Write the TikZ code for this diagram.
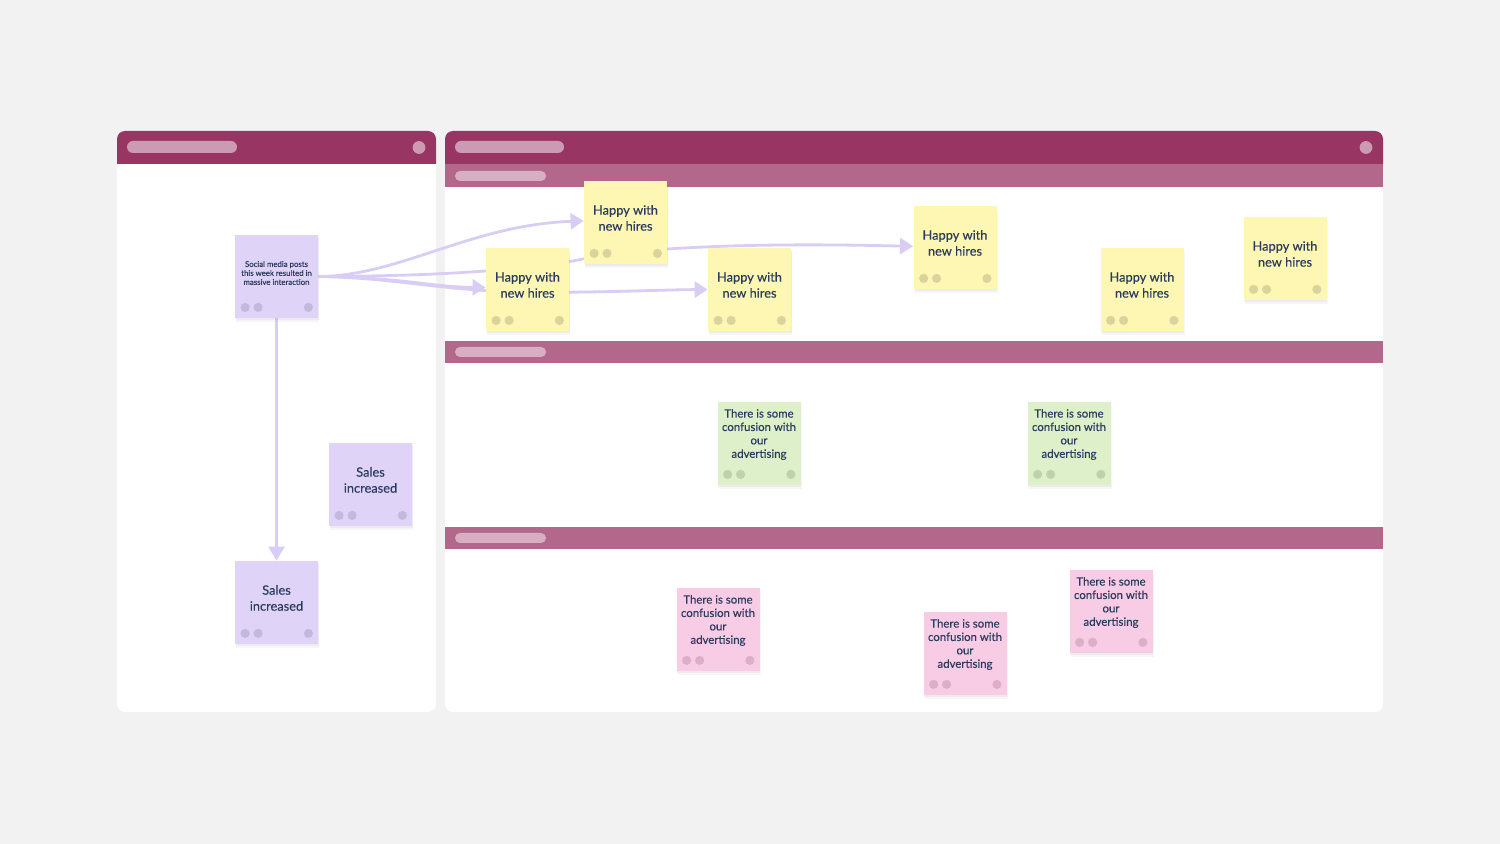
\documentclass[tikz,border=0pt]{standalone}
\usepackage{fontspec}
\setmainfont{Lato}
\newfontfamily\notefont[FakeBold=0.35]{Lato}
\usetikzlibrary{shadows,arrows.meta}
\definecolor{bgc}{HTML}{F2F2F2}
\definecolor{hdr}{HTML}{993562}
\definecolor{lane}{HTML}{B3688B}
\definecolor{hpill}{HTML}{CD9AB3}
\definecolor{lpill}{HTML}{D8AEC3}
\definecolor{txt}{HTML}{2A3B5E}
\definecolor{arr}{HTML}{D9CDF6}
\definecolor{yel}{HTML}{FEF7B4}
\definecolor{yeld}{HTML}{DAD39B}
\definecolor{pur}{HTML}{DFD4F7}
\definecolor{purd}{HTML}{C5B8DD}
\definecolor{grn}{HTML}{DDF0C9}
\definecolor{grnd}{HTML}{BFD0AD}
\definecolor{pnk}{HTML}{F9CCE6}
\definecolor{pnkd}{HTML}{DDAEC8}
\pgfdeclarelayer{bg}
\pgfdeclarelayer{arrows}
\pgfsetlayers{bg,arrows,main}
\newcommand\notedots[2]{\fill[#2] ([shift={(10.5,-11)}]#1.south west) circle[radius=2.3pt]
  ([shift={(23.5,-11)}]#1.south west) circle[radius=2.3pt]
  ([shift={(-10,-11)}]#1.south east) circle[radius=2.3pt];}
\begin{document}
\begin{tikzpicture}[x=0.5pt,y=-0.5pt,
  note/.style={minimum width=41.5pt, minimum height=41.5pt, inner sep=0pt,
    drop shadow={shadow xshift=0.5pt, shadow yshift=-1.8pt, opacity=0.07},
    drop shadow={shadow xshift=0.4pt, shadow yshift=-1.1pt, opacity=0.08}},
  ynote/.style={note, fill=yel},
  pnote/.style={note, fill=pur},
  gnote/.style={note, fill=grn},
  knote/.style={note, fill=pnk},
  bigtext/.style={text=txt, inner sep=0pt, align=center, font=\notefont\fontsize{6.4pt}{8pt}\selectfont},
  midtext/.style={text=txt, inner sep=0pt, align=center, font=\notefont\fontsize{5.7pt}{6.7pt}\selectfont},
  smalltext/.style={text=txt, inner sep=0pt, align=center, font=\notefont\fontsize{3.9pt}{4.5pt}\selectfont},
  conn/.style={draw=arr, line width=1.4pt, -{Triangle[length=6.5pt,width=8pt]}}
  ]
\useasboundingbox (0,0) rectangle (1500,844);
\begin{pgfonlayer}{bg}
\fill[bgc] (0,0) rectangle (1500,844);
% left panel
\fill[white, rounded corners=4pt] (117,131) rectangle (436,712);
\begin{scope}
\clip (117,131) rectangle (436,164);
\fill[hdr, rounded corners=4pt] (117,131) rectangle (436,712);
\end{scope}
\fill[hpill, rounded corners=3pt] (127,141) rectangle (237,153);
\fill[hpill] (419,147.5) circle[radius=3.2pt];
% right panel
\fill[white, rounded corners=4pt] (445,131) rectangle (1383,712);
\begin{scope}
\clip (445,131) rectangle (1383,164);
\fill[hdr, rounded corners=4pt] (445,131) rectangle (1383,712);
\end{scope}
\fill[hpill, rounded corners=3pt] (455,141) rectangle (564,153);
\fill[hpill] (1366,147.5) circle[radius=3.2pt];
% lanes
\fill[lane] (445,164) rectangle (1383,187);
\fill[lpill, rounded corners=2.5pt] (455,171) rectangle (546,181);
\fill[lane] (445,341) rectangle (1383,363);
\fill[lpill, rounded corners=2.5pt] (455,347) rectangle (546,357);
\fill[lane] (445,527) rectangle (1383,549);
\fill[lpill, rounded corners=2.5pt] (455,533) rectangle (546,543);
\end{pgfonlayer}

% notes
\node[pnote] (social) at (276.5,276.5) {};
\node[smalltext] (socialt) at ([yshift=1.75pt]social.center) {Social media posts\\this week resulted in\\massive interaction};
\notedots{social}{purd}
\node[pnote] (sales1) at (370.5,484.5) {};
\node[bigtext] (sales1t) at ([yshift=2.25pt]sales1.center) {Sales\\increased};
\notedots{sales1}{purd}
\node[pnote] (sales2) at (276.5,602.5) {};
\node[bigtext] (sales2t) at ([yshift=2.25pt]sales2.center) {Sales\\increased};
\notedots{sales2}{purd}

\node[ynote] (y1) at (625.5,222.5) {};
\node[bigtext] (y1t) at ([yshift=2.25pt]y1.center) {Happy with\\new hires};
\notedots{y1}{yeld}
\node[ynote] (y2) at (527.5,289.5) {};
\node[bigtext] (y2t) at ([yshift=2.25pt]y2.center) {Happy with\\new hires};
\notedots{y2}{yeld}
\node[ynote] (y3) at (749.5,289.5) {};
\node[bigtext] (y3t) at ([yshift=2.25pt]y3.center) {Happy with\\new hires};
\notedots{y3}{yeld}
\node[ynote] (y4) at (955,247.5) {};
\node[bigtext] (y4t) at ([yshift=2.25pt]y4.center) {Happy with\\new hires};
\notedots{y4}{yeld}
\node[ynote] (y5) at (1142,289.5) {};
\node[bigtext] (y5t) at ([yshift=2.25pt]y5.center) {Happy with\\new hires};
\notedots{y5}{yeld}
\node[ynote] (y6) at (1285,258.5) {};
\node[bigtext] (y6t) at ([yshift=2.25pt]y6.center) {Happy with\\new hires};
\notedots{y6}{yeld}

\node[gnote] (g1) at (759,443.5) {};
\node[midtext] (g1t) at ([yshift=4.5pt]g1.center) {There is some\\confusion with\\our\\advertising};
\notedots{g1}{grnd}
\node[gnote] (g2) at (1069,443.5) {};
\node[midtext] (g2t) at ([yshift=4.5pt]g2.center) {There is some\\confusion with\\our\\advertising};
\notedots{g2}{grnd}

\node[knote] (p1) at (718,629.5) {};
\node[midtext] (p1t) at ([yshift=4.5pt]p1.center) {There is some\\confusion with\\our\\advertising};
\notedots{p1}{pnkd}
\node[knote] (p2) at (965,653.5) {};
\node[midtext] (p2t) at ([yshift=4.5pt]p2.center) {There is some\\confusion with\\our\\advertising};
\notedots{p2}{pnkd}
\node[knote] (p3) at (1111,611.5) {};
\node[midtext] (p3t) at ([yshift=4.5pt]p3.center) {There is some\\confusion with\\our\\advertising};
\notedots{p3}{pnkd}

% connectors
\begin{pgfonlayer}{arrows}
\coordinate (via4a) at (527,268);
\coordinate (via4b) at (667,249);
\coordinate (via3) at (527,292);
\draw[conn] (social.east) .. controls (400,276) and (470,225) .. ([yshift=0.8pt]y1.west);
\draw[conn] (social.east) .. controls (400,277) and (430,287) .. ([yshift=1pt]y2.west);
\draw[conn] (social.east) .. controls (400,278) and (440,291) .. (via3)
  .. controls (600,293) and (650,290) .. (y3.west);
\draw[conn] (social.east) .. controls (420,276) and (460,273) .. (via4a)
  .. controls (570,264) and (600,252) .. (via4b)
  .. controls (760,243) and (850,245) .. ([yshift=0.6pt]y4.west);
\draw[conn, -{Triangle[length=7pt,width=8pt]}] (social.south) -- (sales2.north);
\end{pgfonlayer}
\end{tikzpicture}
\end{document}
